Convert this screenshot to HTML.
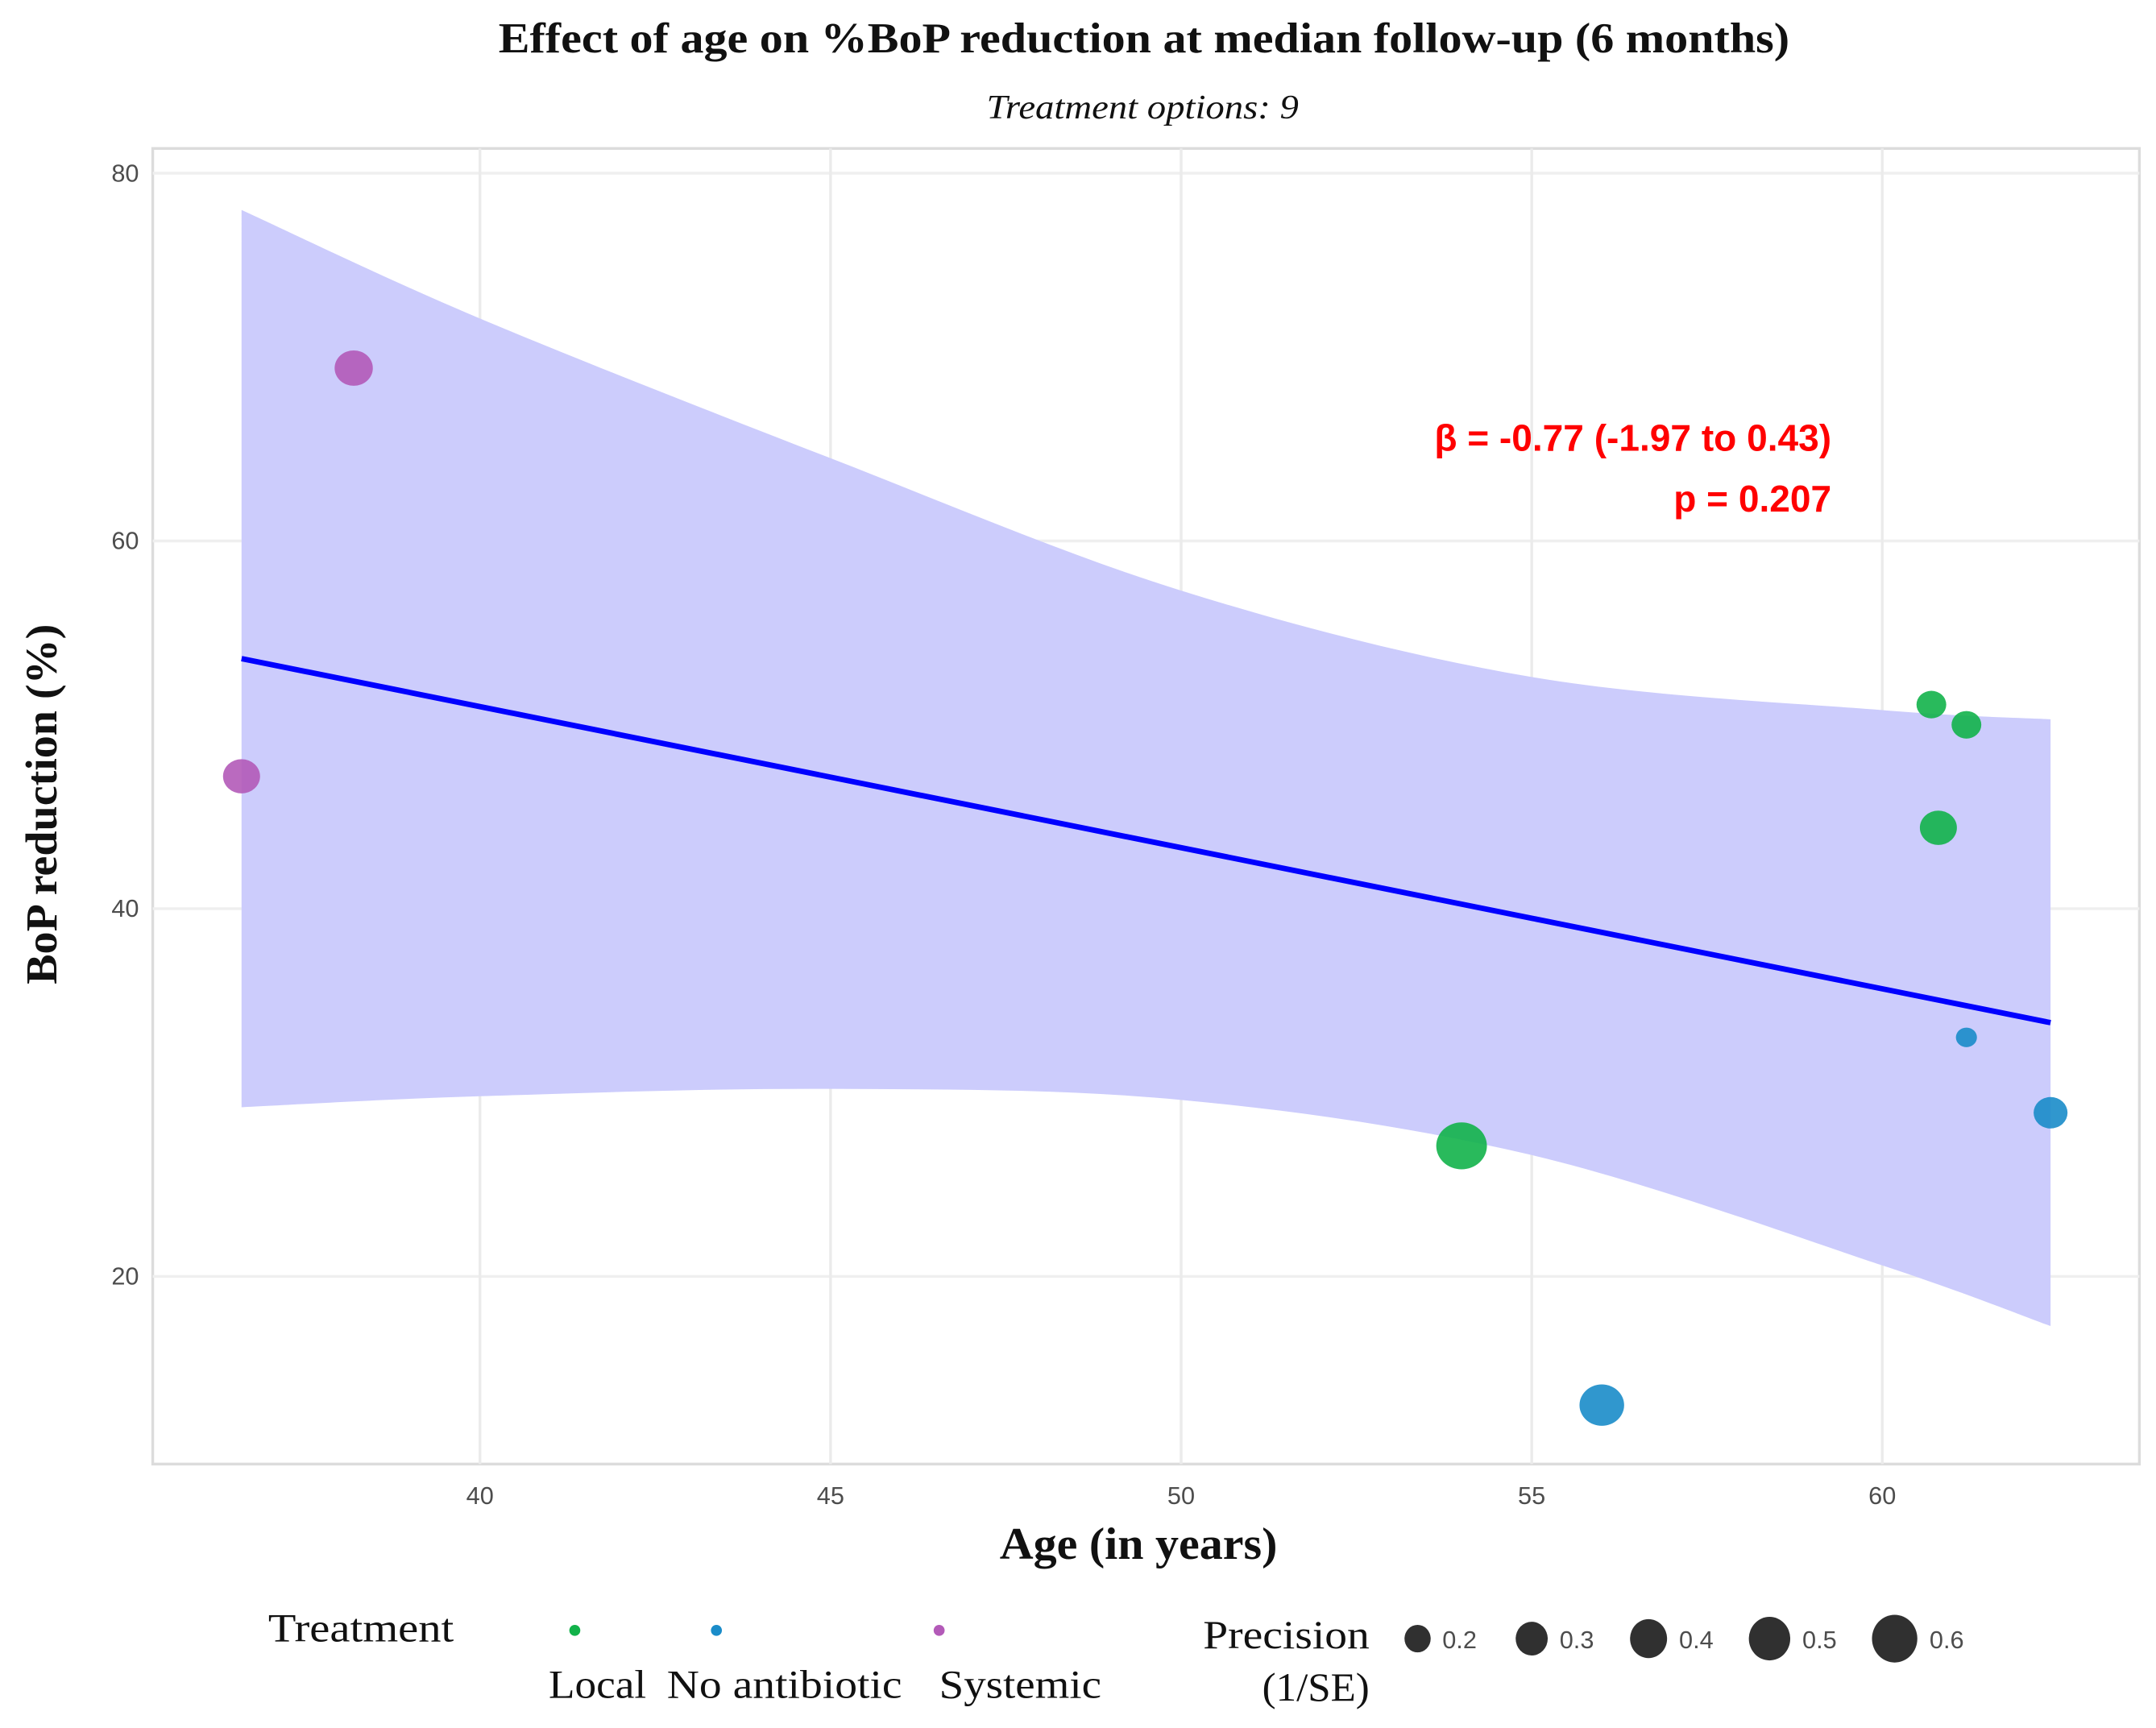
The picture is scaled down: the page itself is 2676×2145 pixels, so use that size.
<!DOCTYPE html>
<html><head><meta charset="utf-8"><style>
html,body{margin:0;padding:0;background:#fff;}
svg{display:block;}
.tick{font-family:"Liberation Sans",sans-serif;font-size:18px;fill:#4d4d4d;}
.serif{font-family:"Liberation Serif",serif;}
</style></head><body>
<svg id="chart" width="2676" height="2145" viewBox="0 0 1568 1257" xmlns="http://www.w3.org/2000/svg">
<text class="serif" x="832" y="38" text-anchor="middle" font-size="31" font-weight="bold" fill="#111" textLength="939" lengthAdjust="spacingAndGlyphs">Effect of age on %BoP reduction at median follow-up (6 months)</text>
<text class="serif" x="831" y="86" text-anchor="middle" font-size="25" font-style="italic" fill="#111" textLength="227" lengthAdjust="spacingAndGlyphs">Treatment options: 9</text>
<rect x="111" y="108" width="1445" height="957" fill="#fff" stroke="#dcdcdc" stroke-width="2"/>
<g id="grid"></g>
<g id="band"></g>
<g id="points"></g>
<g id="axes"></g>
<text x="1332" y="328" text-anchor="end" font-family="Liberation Sans,sans-serif" font-size="27" font-weight="bold" fill="#ff0000">β = -0.77 (-1.97 to 0.43)</text>
<text x="1332" y="372" text-anchor="end" font-family="Liberation Sans,sans-serif" font-size="27" font-weight="bold" fill="#ff0000">p = 0.207</text>
<text class="serif" x="828" y="1134" text-anchor="middle" font-size="33" font-weight="bold" fill="#111" textLength="202" lengthAdjust="spacingAndGlyphs">Age (in years)</text>
<text class="serif" transform="translate(41,585) rotate(-90)" text-anchor="middle" font-size="32" font-weight="bold" fill="#111" textLength="262" lengthAdjust="spacingAndGlyphs">BoP reduction (%)</text>
<g>
<text class="serif" x="195" y="1194" font-size="29" fill="#111" textLength="135" lengthAdjust="spacingAndGlyphs">Treatment</text>
<circle cx="418" cy="1186" r="4" fill="#12b24a"/>
<circle cx="521" cy="1186" r="4" fill="#1a8cc9"/>
<circle cx="683" cy="1186" r="4" fill="#b35ab8"/>
<text class="serif" x="399" y="1235" font-size="29" fill="#111" textLength="71" lengthAdjust="spacingAndGlyphs">Local</text>
<text class="serif" x="485" y="1235" font-size="29" fill="#111" textLength="171" lengthAdjust="spacingAndGlyphs">No antibiotic</text>
<text class="serif" x="683" y="1235" font-size="29" fill="#111" textLength="118" lengthAdjust="spacingAndGlyphs">Systemic</text>
</g>
<g id="sizeLegend">
<text class="serif" x="875" y="1199" font-size="29" fill="#111" textLength="121" lengthAdjust="spacingAndGlyphs">Precision</text>
<text class="serif" x="918" y="1237" font-size="29" fill="#111" textLength="78" lengthAdjust="spacingAndGlyphs">(1/SE)</text>
</g>
</svg>
<script>
const xTicks=[40,45,50,55,60];
const yTicks=[20,40,60,80];
const ages=[38.2,36.6,54.0,60.7,61.2,60.8,56.0,61.2,62.4];
const bop=[69.4,47.2,27.1,51.1,50.0,44.4,13.0,33.0,28.9];
const groups=["Systemic","Systemic","Local","Local","Local","Local","No antibiotic","No antibiotic","No antibiotic"];
const precision=[0.33,0.31,0.58,0.2,0.2,0.31,0.45,0.1,0.26];
const bandAges=[36.6,40,45,50,55,60,62.4];
const bandUpper=[78.0,72.1,64.5,57.3,52.6,50.8,50.3];
const bandLower=[29.2,29.8,30.2,29.6,26.6,20.6,17.3];
const fitAges=[36.6,62.4];
const fitValues=[53.6,33.8];
const sizeLegend=[0.2,0.3,0.4,0.5,0.6];

const NS="http://www.w3.org/2000/svg";
const X=a=>349+(a-40)*51;
const Y=v=>126+(80-v)*13.375;
const R=p=>22.4*Math.sqrt(p);
const colors={"Local":"#12b24a","No antibiotic":"#1a8cc9","Systemic":"#b35ab8"};
function mk(tag,attrs,parent){const e=document.createElementNS(NS,tag);for(const k in attrs)e.setAttribute(k,attrs[k]);parent.appendChild(e);return e;}
function smooth(p){let s='';for(let i=0;i<p.length-1;i++){const p0=p[Math.max(i-1,0)],p1=p[i],p2=p[i+1],p3=p[Math.min(i+2,p.length-1)];
const c1=[p1[0]+(p2[0]-p0[0])/6,p1[1]+(p2[1]-p0[1])/6],c2=[p2[0]-(p3[0]-p1[0])/6,p2[1]-(p3[1]-p1[1])/6];
s+=' C'+c1+' '+c2+' '+p2;}return s;}
const grid=document.getElementById('grid');
yTicks.forEach(v=>{const l=mk('line',{x1:111,x2:1556,y1:Y(v),y2:Y(v),stroke:'#efefef','stroke-width':2},grid);

});
xTicks.forEach(v=>{const l=mk('line',{x1:X(v),x2:X(v),y1:108,y2:1065,stroke:'#ebebeb','stroke-width':2},grid);

});
const band=document.getElementById('band');
const up=bandAges.map((a,i)=>[X(a),Y(bandUpper[i])]);
const lo=bandAges.map((a,i)=>[X(a),Y(bandLower[i])]).reverse();
const d='M'+up[0]+smooth(up)+' L'+lo[0]+smooth(lo)+' Z';
const bp=mk('path',{d:d,fill:'#ccccfc'},band);


const fl=mk('line',{x1:X(fitAges[0]),y1:Y(fitValues[0]),x2:X(fitAges[1]),y2:Y(fitValues[1]),stroke:'#0000ff','stroke-width':4},band);


const pts=document.getElementById('points');
ages.forEach((a,i)=>{const r=R(precision[i]);
const c=mk('ellipse',{cx:X(a),cy:Y(bop[i]),rx:r*1.08,ry:r,fill:colors[groups[i]],'fill-opacity':0.9},pts);

});
const ax=document.getElementById('axes');
xTicks.forEach(v=>{const t=mk('text',{x:X(v),y:1094,'text-anchor':'middle',class:'tick'},ax);t.textContent=v;

});
yTicks.forEach(v=>{const t=mk('text',{x:101,y:Y(v)+6,'text-anchor':'end',class:'tick'},ax);t.textContent=v;

});
const sl=document.getElementById('sizeLegend');
const slx=[1031,1114,1199,1287,1378];
sizeLegend.forEach((p,i)=>{const r=R(p);
const c=mk('ellipse',{cx:slx[i],cy:1192,rx:r*0.95,ry:r,fill:'#1a1a1a','fill-opacity':0.9},sl);


const t=mk('text',{x:slx[i]+r+8,y:1199,class:'tick'},sl);t.textContent=p;

});
</script>
</body></html>
